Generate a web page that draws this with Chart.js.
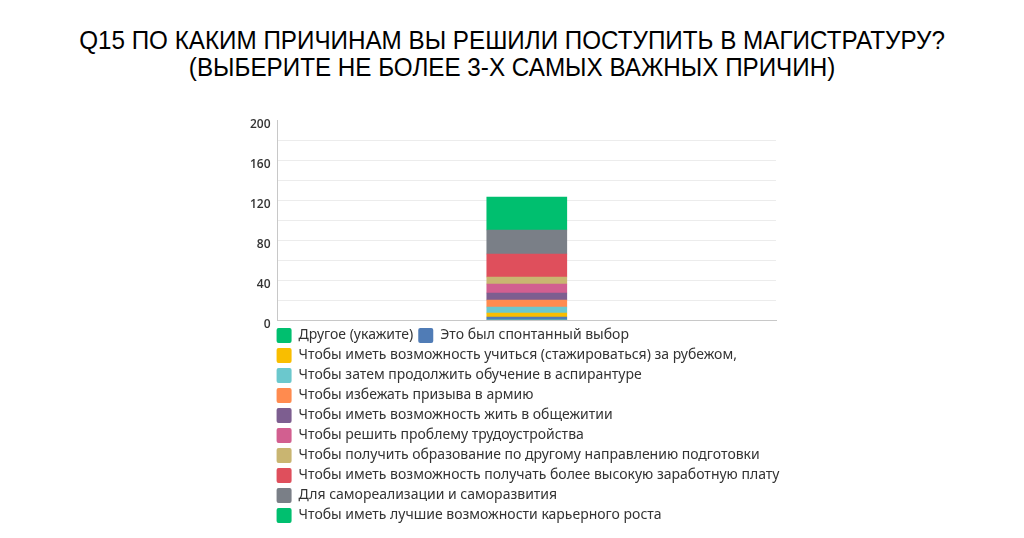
<!DOCTYPE html>
<html>
<head>
<meta charset="utf-8">
<script src="https://cdn.jsdelivr.net/npm/chart.js@4/dist/chart.umd.min.js"></script>
<style>
  html, body { margin: 0; padding: 0; background: #fff; }
  .wrap { position: relative; width: 1024px; height: 538px; }
  .title {
    position: absolute; left: 0; top: 27px; width: 1024px;
    text-align: center; color: #000;
    font-family: "Liberation Sans", Arial, sans-serif;
    font-size: 25.5px; line-height: 27px;
    transform: scaleX(0.95); transform-origin: 513px 0;
  }
  canvas { position: absolute; left: 0; top: 0; }
</style>
</head>
<body>
<div class="wrap">
  <div class="title">Q15 ПО КАКИМ ПРИЧИНАМ ВЫ РЕШИЛИ ПОСТУПИТЬ В МАГИСТРАТУРУ?<br>(ВЫБЕРИТЕ НЕ БОЛЕЕ 3-Х САМЫХ ВАЖНЫХ ПРИЧИН)</div>
  <canvas id="myChart" width="1024" height="538"></canvas>
</div>
<script>
var categories = [''];

var seriesNames = [
    'Другое (укажите)',
    'Это был спонтанный выбор',
    'Чтобы иметь возможность учиться (стажироваться) за рубежом,',
    'Чтобы затем продолжить обучение в аспирантуре',
    'Чтобы избежать призыва в армию',
    'Чтобы иметь возможность жить в общежитии',
    'Чтобы решить проблему трудоустройства',
    'Чтобы получить образование по другому направлению подготовки',
    'Чтобы иметь возможность получать более высокую заработную плату',
    'Для самореализации и саморазвития',
    'Чтобы иметь лучшие возможности карьерного роста'
];

var seriesValues = [0, 3, 4, 6, 7, 7, 9, 7, 23, 24, 33];

var seriesColors = [
    '#00bf6f',
    '#507cb6',
    '#f9be00',
    '#6bc8cd',
    '#ff8b4f',
    '#7d5e90',
    '#d25f90',
    '#c9b571',
    '#df4f5c',
    '#7a7f87',
    '#00bf6f'
];

var yTicks = [0, 40, 80, 120, 160, 200];

var datasets = [];
for (var i = 0; i < seriesNames.length; i++) {
    datasets.push({
        label: seriesNames[i],
        data: [seriesValues[i]],
        backgroundColor: seriesColors[i],
        borderWidth: 0,
        barThickness: 80
    });
}

// pull the legend back to the axis line, leave a bit of room for the long label
var legendShift = {
    id: 'legendShift',
    afterLayout: function (chart) {
        chart.legend.left -= 6;
        chart.legend.right += 24;
    }
};

var ctx = document.getElementById('myChart').getContext('2d');
var myChart = new Chart(ctx, {
    type: 'bar',
    data: { labels: categories, datasets: datasets },
    plugins: [legendShift],
    options: {
        responsive: false,
        animation: false,
        layout: { padding: { top: 120, left: 243, right: 248, bottom: 5 } },
        plugins: {
            tooltip: { enabled: false },
            legend: {
                position: 'bottom',
                align: 'start',
                fullSize: false,
                maxHeight: 240,
                labels: {
                    boxWidth: 15,
                    boxHeight: 15,
                    padding: 5,
                    useBorderRadius: true,
                    borderRadius: 2,
                    color: '#333',
                    font: { family: 'Noto Sans', size: 14 }
                }
            }
        },
        scales: {
            x: {
                stacked: true,
                grid: { display: false, drawTicks: true, tickLength: 3 },
                border: { display: true, color: '#c8c8c8' },
                ticks: { display: false }
            },
            y: {
                stacked: true,
                min: 0,
                max: 200,
                grid: {
                    drawTicks: false,
                    color: function (c) {
                        if (c.tick && c.tick.value === 200) return 'rgba(0,0,0,0)';
                        return '#ececec';
                    }
                },
                border: { display: true, color: '#c8c8c8' },
                ticks: {
                    stepSize: 20,
                    padding: 7,
                    labelOffset: 5,
                    color: '#333',
                    font: { family: 'Open Sans', size: 12, weight: '600' },
                    callback: function (v) {
                        return yTicks.indexOf(v) >= 0 ? v : '';
                    }
                }
            }
        }
    }
});
</script>
</body>
</html>
